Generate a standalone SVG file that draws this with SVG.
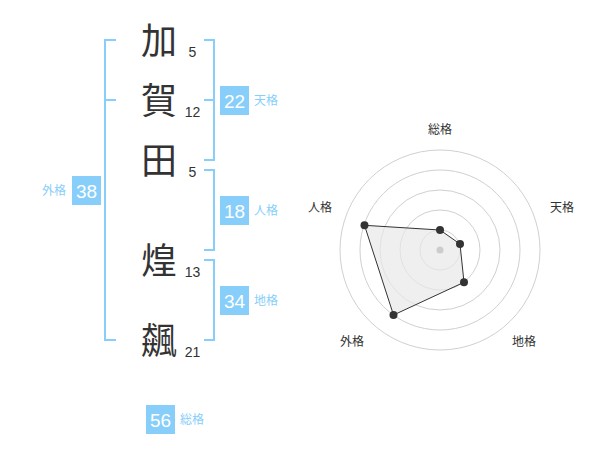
<svg xmlns="http://www.w3.org/2000/svg" width="600" height="470" viewBox="0 0 600 470">
<style>
.ch{font-family:"Noto Sans CJK JP","Noto Sans CJK SC",sans-serif;font-size:36px;fill:#333;text-anchor:middle}
.num{font-family:"Liberation Sans",Arial,sans-serif;font-size:14px;fill:#333;text-anchor:middle}
.br{fill:none;stroke:#87cefa;stroke-width:2}
.box{fill:#87cefa}
.bn{font-family:"Liberation Sans",Arial,sans-serif;font-size:19px;fill:#fff;text-anchor:middle}
.lb{font-family:"Noto Sans CJK JP","Noto Sans CJK SC",sans-serif;font-size:12px;fill:#87cefa}
.ring{fill:none;stroke:#d0d0d0;stroke-width:1}
.rl{font-family:"Noto Sans CJK JP","Noto Sans CJK SC",sans-serif;font-size:12px;fill:#333;text-anchor:middle}
.pt{fill:#333}
</style>
<rect width="600" height="470" fill="#fff"/>
<g id="connectors">
<path class="br" d="M116,40 H105 V340 H116 M105,100 H116"/>
<path class="br" d="M204,40 H214 V160 H204 M204,100 H214"/>
<path class="br" d="M204,170 H214 V250 H204"/>
<path class="br" d="M204,260 H214 V340 H204"/>
</g>
<g id="char1"><text class="ch" x="159" y="54">加</text><text class="num" x="192.5" y="57">5</text></g>
<g id="char2"><text class="ch" x="159" y="114">賀</text><text class="num" x="192.5" y="117">12</text></g>
<g id="char3"><text class="ch" x="159" y="174">田</text><text class="num" x="192.5" y="177">5</text></g>
<g id="char4"><text class="ch" x="159" y="274">煌</text><text class="num" x="192.5" y="277">13</text></g>
<g id="char5"><text class="ch" x="159" y="354">飆</text><text class="num" x="192.5" y="357">21</text></g>
<g id="tenkaku"><rect class="box" x="220" y="86" width="29" height="29"/><text class="bn" x="234.5" y="107.5">22</text><text class="lb" x="254" y="105">天格</text></g>
<g id="jinkaku"><rect class="box" x="220" y="196" width="29" height="29"/><text class="bn" x="234.5" y="217.5">18</text><text class="lb" x="254" y="215">人格</text></g>
<g id="chikaku"><rect class="box" x="220" y="286" width="29" height="29"/><text class="bn" x="234.5" y="307.5">34</text><text class="lb" x="254" y="305">地格</text></g>
<g id="gaikaku"><rect class="box" x="72" y="176" width="29" height="29"/><text class="bn" x="86.5" y="197.5">38</text><text class="lb" x="66" y="195" text-anchor="end">外格</text></g>
<g id="soukaku"><rect class="box" x="146" y="405" width="29" height="29"/><text class="bn" x="160.5" y="426.5">56</text><text class="lb" x="180" y="424">総格</text></g>
<g id="radar">
<circle class="ring" cx="440" cy="250" r="20"/>
<circle class="ring" cx="440" cy="250" r="40"/>
<circle class="ring" cx="440" cy="250" r="60"/>
<circle class="ring" cx="440" cy="250" r="80"/>
<circle class="ring" cx="440" cy="250" r="100"/>
<polygon points="440,230 460,244 464,282.3 393.5,315 364.5,225.3" fill="#e8e8e8" fill-opacity="0.7" stroke="#333" stroke-width="1"/>
<circle cx="440" cy="250" r="3.5" fill="#cccccc"/>
<circle class="pt" cx="440" cy="230" r="4"/>
<circle class="pt" cx="460" cy="244" r="4"/>
<circle class="pt" cx="464" cy="282.3" r="4"/>
<circle class="pt" cx="393.5" cy="315" r="4"/>
<circle class="pt" cx="364.5" cy="225.3" r="4"/>
<text class="rl" x="440" y="134">総格</text>
<text class="rl" x="562" y="212">天格</text>
<text class="rl" x="320" y="212">人格</text>
<text class="rl" x="352" y="346">外格</text>
<text class="rl" x="524" y="346">地格</text>
</g>
</svg>
